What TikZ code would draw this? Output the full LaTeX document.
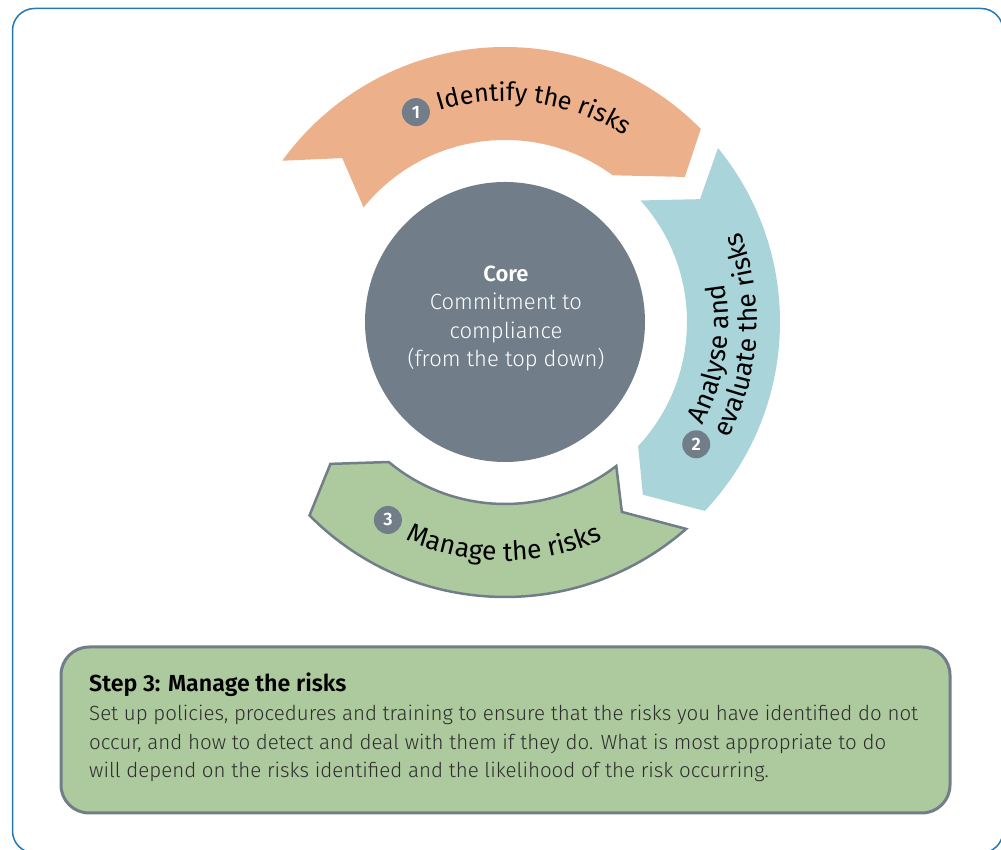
\documentclass[tikz,border=0pt]{standalone}
\usepackage{fontspec}
\setmainfont{Fira Sans}
\newfontfamily\lightfont{Fira Sans Light}
\newfontfamily\semifont{Fira Sans SemiBold}
\usetikzlibrary{decorations.text}
\definecolor{orangec}{RGB}{236,176,138}
\definecolor{bluec}{RGB}{168,212,218}
\definecolor{greenc}{RGB}{173,201,158}
\definecolor{greyc}{RGB}{113,126,137}
\definecolor{framec}{RGB}{38,120,180}
\definecolor{bodyc}{RGB}{45,45,45}
\newcommand\curvefont{\fontsize{26.5}{30}\selectfont}
\newcommand\topcurvefont{\fontsize{25.3}{30}\selectfont}
\begin{document}
\begin{tikzpicture}[x=1pt,y=1pt,
  badge/.style={circle, fill=greyc, text=white, minimum size=28pt, inner sep=0pt,
    font=\semifont\fontsize{18}{18}\selectfont},
  coretext/.style={text=white, anchor=base, inner sep=0pt, font=\lightfont\fontsize{22}{22}\selectfont},
  bodytext/.style={text=bodyc, anchor=base west, inner sep=0pt, font=\lightfont\fontsize{20.5}{20.5}\selectfont},
  curved/.style={decorate, decoration={text along path, text align=left, text={#1}}}
]
\useasboundingbox (0,0) rectangle (1001,850);
% outer frame
\draw[framec, line width=1.5pt, rounded corners=22pt] (12.5,841.5) rectangle (1003,-3);

\begin{scope}[shift={(505,528)}]
  % step 1 arrow (orange)
  \fill[orangec] (144.1:275) arc[start angle=144.1, end angle=44.6, radius=275pt]
    -- (38.9:231) -- (53.7:182) arc[start angle=53.7, end angle=141, radius=182pt]
    -- (134.8:231) -- cycle;
  % step 2 arrow (blue)
  \fill[bluec] (39.25:275) arc[start angle=39.25, end angle=-43.4, radius=275pt]
    -- (-51.4:221) -- (-43:182) arc[start angle=-43, end angle=41.9, radius=182pt]
    -- (32.2:230.5) -- cycle;
  % step 3 arrow (green, highlighted)
  \filldraw[fill=greenc, draw=greyc, line width=2.5pt, line join=miter]
    (311.2:275) arc[start angle=311.2, end angle=224.7, radius=275pt]
    -- (219.1:225) -- (230.3:182) arc[start angle=230.3, end angle=307.7, radius=182pt]
    -- (301.6:223) -- cycle;
  % core
  \node[circle, fill=greyc, minimum size=280pt, inner sep=0pt] (core) at (0,0) {};
  % curved labels
  \path[curved={|\topcurvefont|Identify the risks}] (107.3:221) arc[start angle=107.3, end angle=30, radius=221pt];
  \path[curved={|\curvefont|Analyse and}] (-27.5:223) arc[start angle=-27.5, end angle=40, radius=223pt];
  \path[curved={|\curvefont|evaluate the risks}] (-27.5:252) arc[start angle=-27.5, end angle=40, radius=252pt];
  \path[curved={|\curvefont|Manage the risks}] (245.5:239) arc[start angle=245.5, end angle=320, radius=239pt];
  % badges
  \node[badge] (b1) at (113:228) {1};
  \node[badge] (b2) at (-32.6:227) {2};
  \node[badge] (b3) at (239.4:230) {3};
\end{scope}

% core text
\node[coretext, font=\semifont\fontsize{22}{22}\selectfont] (c0) at (506,568.3) {Core};
\node[coretext] (c1) at (506,540) {Commitment to};
\node[coretext] (c2) at (506,511) {compliance};
\node[coretext] (c3) at (506,483.3) {(from the top down)};

% step box
\draw[fill=greenc, draw=greyc, line width=3pt, rounded corners=28pt] (61,203) rectangle (950,37);
\node[anchor=base west, inner sep=0pt, font=\semifont\fontsize{23.2}{23.2}\selectfont] (head) at (89,158) {Step 3: Manage the risks};
\node[bodytext] (l1) at (89,129.3) {Set up policies, procedures and training to ensure that the risks you have identified do not};
\node[bodytext] (l2) at (89,100.5) {occur, and how to detect and deal with them if they do. What is most appropriate to do};
\node[bodytext] (l3) at (89,72) {will depend on the risks identified and the likelihood of the risk occurring.};
\end{tikzpicture}
\end{document}
